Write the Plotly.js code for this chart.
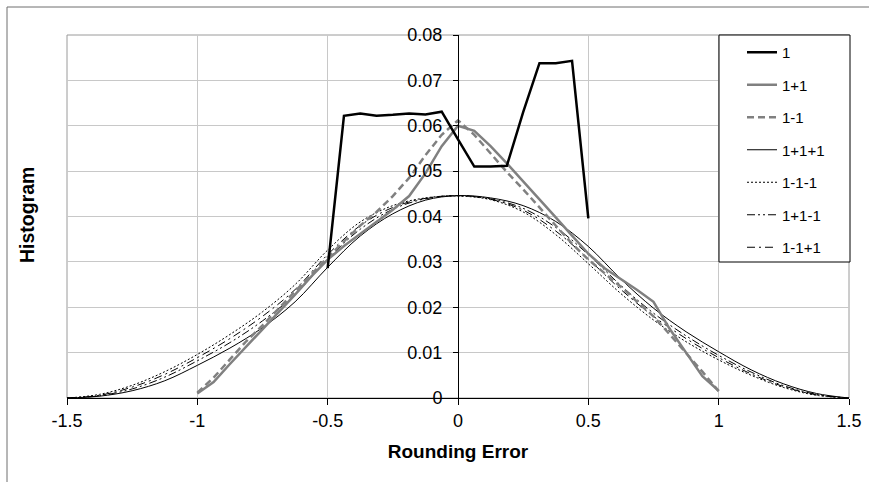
<!DOCTYPE html>
<html>
<head>
<meta charset="utf-8">
<script src="https://cdn.plot.ly/plotly-3.0.1.min.js"></script>
<style>
  html, body { margin: 0; padding: 0; background: #ffffff; }
  #chart { width: 869px; height: 482px; }
</style>
</head>
<body>
<div id="chart"></div>
<script>
// ---- Data ----
// series "1" (uniform)
const xOne = [-0.5, -0.4375, -0.375, -0.3125, -0.25, -0.1875, -0.125, -0.0625, 0, 0.0625, 0.125, 0.1875, 0.25, 0.3125, 0.375, 0.4375, 0.5];
const yOne = [0.0286, 0.0622, 0.0627, 0.0622, 0.0624, 0.0627, 0.0625, 0.0631, 0.0570, 0.0510, 0.0510, 0.0512, 0.0630, 0.0738, 0.0738, 0.0743, 0.0396];

// series "1+1" and "1-1" (triangular)
const xTwo = [-1, -0.9375, -0.875, -0.8125, -0.75, -0.6875, -0.625, -0.5625, -0.5, -0.4375, -0.375, -0.3125, -0.25, -0.1875, -0.125, -0.0625, 0,
              0.0625, 0.125, 0.1875, 0.25, 0.3125, 0.375, 0.4375, 0.5, 0.5625, 0.625, 0.6875, 0.75, 0.8125, 0.875, 0.9375, 1];
const yPlusOne = [0.0010, 0.0035, 0.0075, 0.0113, 0.0152, 0.0190, 0.0228, 0.0268, 0.0305, 0.0335, 0.0362, 0.0388, 0.0415, 0.0445, 0.0495, 0.0555, 0.0600,
                  0.0589, 0.0555, 0.0517, 0.0478, 0.0437, 0.0398, 0.0358, 0.0318, 0.0286, 0.0262, 0.0238, 0.0212, 0.0152, 0.0100, 0.0048, 0.0016];
const yMinusOne = [0.0012, 0.0045, 0.0085, 0.0125, 0.0160, 0.0198, 0.0235, 0.0272, 0.0310, 0.0345, 0.0380, 0.0410, 0.0445, 0.0485, 0.0535, 0.0580, 0.0612,
                   0.0580, 0.0538, 0.0498, 0.0460, 0.0420, 0.0378, 0.0340, 0.0305, 0.0275, 0.0245, 0.0212, 0.0180, 0.0140, 0.0100, 0.0058, 0.0015];

// series with three terms
const xThree = [-1.5, -1.375, -1.25, -1.125, -1, -0.875, -0.75, -0.625, -0.5, -0.375, -0.25, -0.125, 0,
                0.125, 0.25, 0.375, 0.5, 0.625, 0.75, 0.875, 1, 1.125, 1.25, 1.375, 1.5];
const yPPP = [0, 0.0004, 0.0016, 0.0038, 0.0072, 0.0110, 0.0155, 0.0212, 0.0288, 0.0357, 0.0406, 0.0436, 0.0446,
              0.0441, 0.0424, 0.0389, 0.0334, 0.0262, 0.0198, 0.0146, 0.0102, 0.0062, 0.0031, 0.0010, 0];
const yMMM = [0, 0.0008, 0.0028, 0.0058, 0.0096, 0.0140, 0.0190, 0.0250, 0.0326, 0.0388, 0.0424, 0.0441, 0.0445,
              0.0437, 0.0410, 0.0360, 0.0296, 0.0230, 0.0172, 0.0124, 0.0084, 0.0050, 0.0023, 0.0006, 0];
const yPPM = [0, 0.0005, 0.0020, 0.0046, 0.0082, 0.0122, 0.0170, 0.0228, 0.0306, 0.0372, 0.0416, 0.0439, 0.0446,
              0.0439, 0.0418, 0.0376, 0.0316, 0.0248, 0.0187, 0.0137, 0.0094, 0.0057, 0.0027, 0.0008, 0];
const yMMP = [0, 0.0006, 0.0024, 0.0052, 0.0089, 0.0131, 0.0180, 0.0239, 0.0316, 0.0380, 0.0420, 0.0440, 0.0446,
              0.0438, 0.0414, 0.0368, 0.0306, 0.0239, 0.0180, 0.0131, 0.0089, 0.0053, 0.0025, 0.0007, 0];

const seriesNames = ['1', '1+1', '1-1', '1+1+1', '1-1-1', '1+1-1', '1-1+1'];
const xTickVals = [-1.5, -1, -0.5, 0, 0.5, 1, 1.5];
const xTickText = ['-1.5', '-1', '-0.5', '0', '0.5', '1', '1.5'];
const yTickVals = [0, 0.01, 0.02, 0.03, 0.04, 0.05, 0.06, 0.07, 0.08];
const yTickText = ['0', '0.01', '0.02', '0.03', '0.04', '0.05', '0.06', '0.07', '0.08'];

// ---- Chart ----
const FONT = '"Liberation Sans", Arial, Helvetica, sans-serif';
const GRAY = '#808080';

function tr(x, y, i, line, shape) {
  return {
    type: 'scatter', mode: 'lines', x: x, y: y, name: seriesNames[i],
    legendgroup: 'g' + i, legendrank: 100 * (i + 1),
    line: Object.assign({shape: shape || 'linear'}, line),
    hoverinfo: 'x+y+name'
  };
}

const traces = [
  tr(xThree, yPPP, 3, {color: '#000000', width: 1}, 'spline'),
  tr(xThree, yMMM, 4, {color: '#000000', width: 1, dash: '2px,2px'}, 'spline'),
  tr(xThree, yPPM, 5, {color: '#000000', width: 1, dash: '8px,3px,2px,3px,2px,3px'}, 'spline'),
  tr(xThree, yMMP, 6, {color: '#000000', width: 1, dash: '8px,4px,2px,4px'}, 'spline'),
  tr(xTwo, yPlusOne, 1, {color: GRAY, width: 2.5}),
  tr(xTwo, yMinusOne, 2, {color: GRAY, width: 2.5, dash: '7px,4px'}),
  tr(xOne, yOne, 0, {color: '#000000', width: 2.5})
];

const L = 67, R = 849, T = 35, B = 398;
const W = 869, H = 482;
function px(p) { return (p - L) / (R - L); }
function py(p) { return (B - p) / (B - T); }

const layout = {
  width: W, height: H,
  margin: {l: L, r: W - R, t: T, b: H - B, pad: 0},
  paper_bgcolor: '#ffffff', plot_bgcolor: '#ffffff',
  font: {family: FONT, size: 18, color: '#000000'},
  showlegend: true,
  legend: {
    x: px(742), y: py(36), xanchor: 'left', yanchor: 'top',
    bgcolor: 'rgba(0,0,0,0)', borderwidth: 0,
    font: {family: FONT, size: 15, color: '#000000'},
    traceorder: 'grouped', tracegroupgap: 10
  },
  xaxis: {
    range: [-1.5, 1.5], tickmode: 'array', tickvals: xTickVals, ticktext: xTickText,
    showgrid: true, gridcolor: '#c8c8c8', gridwidth: 1, zeroline: false,
    showline: true, linecolor: '#000000', linewidth: 1,
    ticks: 'outside', ticklen: 6, tickcolor: '#000000', tickwidth: 1,
    tickfont: {family: FONT, size: 18, color: '#000000'},
    title: {text: 'Rounding Error', font: {family: FONT, size: 19, color: '#000000', weight: 'bold'}, standoff: 15},
    automargin: false, fixedrange: true
  },
  yaxis: {
    range: [0, 0.08], tickmode: 'array', tickvals: yTickVals, ticktext: yTickText,
    anchor: 'free', position: 0.5, side: 'left',
    showgrid: true, gridcolor: '#c8c8c8', gridwidth: 1, zeroline: false,
    showline: true, linecolor: '#000000', linewidth: 1,
    ticks: 'outside', ticklen: 5, tickcolor: '#000000', tickwidth: 1,
    ticklabelstandoff: 7,
    tickfont: {family: FONT, size: 18, color: '#000000'},
    automargin: false, fixedrange: true
  },
  annotations: [{
    xref: 'paper', yref: 'paper', x: px(27), y: py(215), xanchor: 'center', yanchor: 'middle',
    text: 'Histogram', textangle: -90, showarrow: false,
    font: {family: FONT, size: 19.5, color: '#000000', weight: 'bold'}
  }],
  shapes: [
    // outer frame (left and top edges visible)
    {type: 'rect', xref: 'paper', yref: 'paper', x0: px(7), x1: px(900), y0: py(520), y1: py(7),
     line: {color: '#6e6e6e', width: 1}, fillcolor: 'rgba(0,0,0,0)', layer: 'below'},
    // plot area border
    {type: 'rect', xref: 'paper', yref: 'paper', x0: 0, x1: 1, y0: 0, y1: 1,
     line: {color: '#9a9a9a', width: 1}, fillcolor: 'rgba(0,0,0,0)', layer: 'below'},
    // legend box
    {type: 'rect', xref: 'paper', yref: 'paper', x0: px(719), x1: px(850), y0: py(262), y1: py(35),
     line: {color: '#000000', width: 1}, fillcolor: '#ffffff', layer: 'above'}
  ]
};

Plotly.newPlot('chart', traces, layout, {displayModeBar: false, staticPlot: true});
</script>
</body>
</html>
